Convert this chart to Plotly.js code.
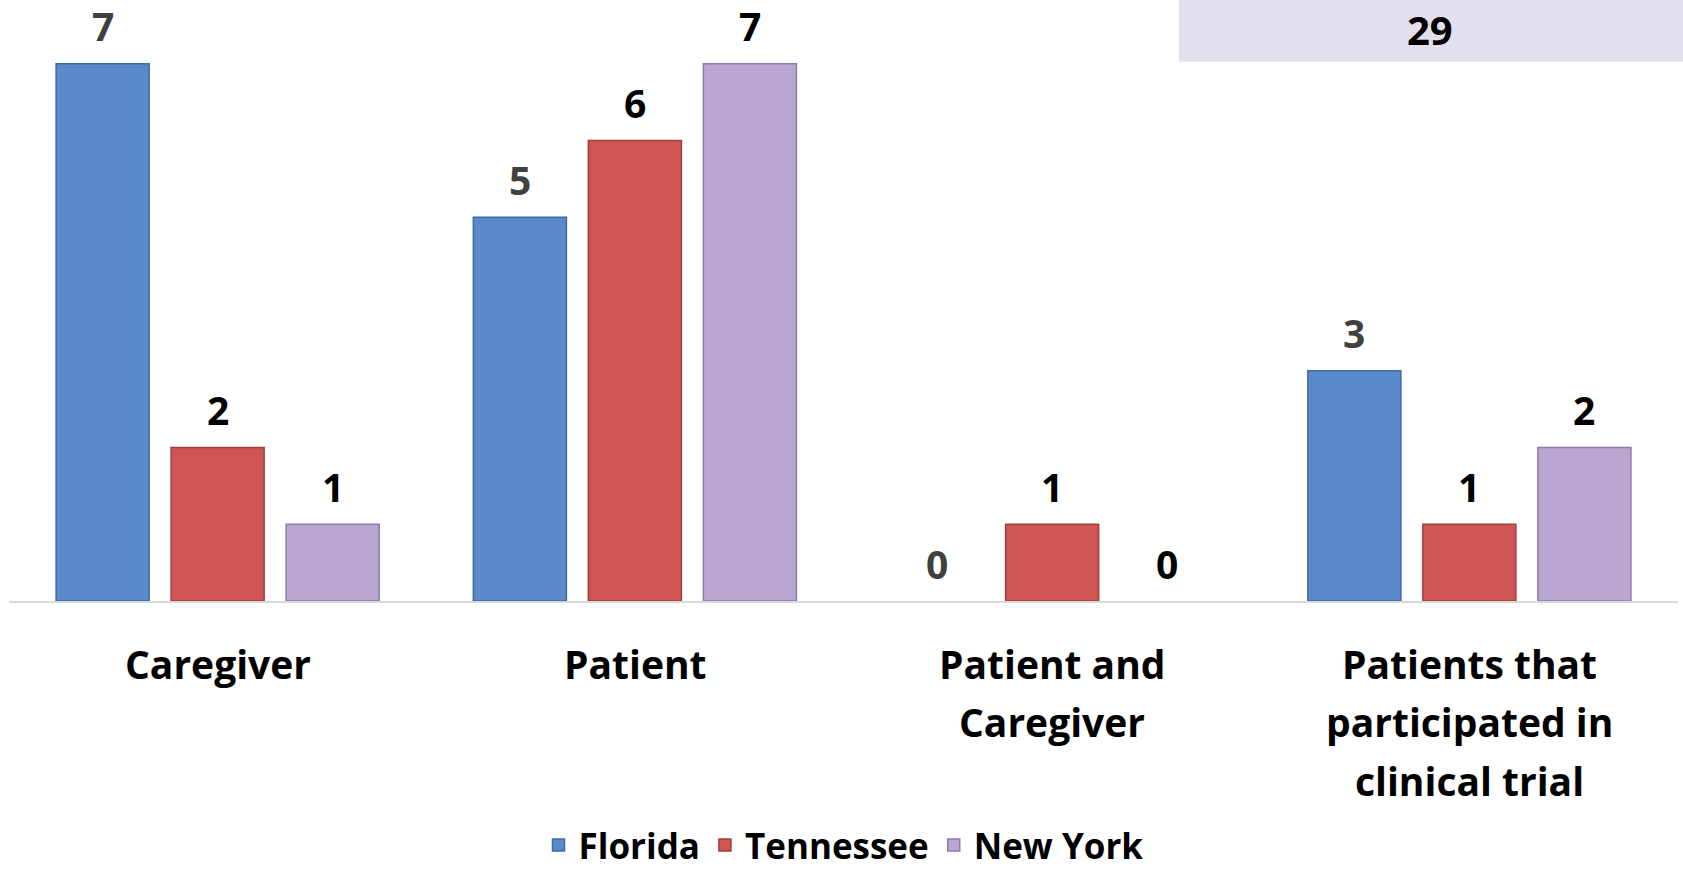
<!DOCTYPE html>
<html>
<head>
<meta charset="utf-8">
<script src="https://cdn.plot.ly/plotly-3.0.1.min.js"></script>
<style>html,body{margin:0;padding:0;background:#fff;}#chart{width:1683px;height:876px;}</style>
</head>
<body>
<div id="chart"></div>
<script>
// ---- data ----
const categories = ['Caregiver', 'Patient', 'Patient and Caregiver', 'Patients that participated in clinical trial'];
const categoryLines = [['Caregiver'], ['Patient'], ['Patient and', 'Caregiver'], ['Patients that', 'participated in', 'clinical trial']];
const seriesNames = ['Florida', 'Tennessee', 'New York'];
const florida = [7, 5, 0, 3];
const tennessee = [2, 6, 1, 1];
const newYork = [1, 7, 0, 2];
const totalLabel = '29';

// ---- styles ----
const seriesValues = [florida, tennessee, newYork];
const fillColors = ['#5A8AC9', '#CD5553', '#B9A6D1'];
const lineColors = ['#3E6BA6', '#A33E3B', '#8F7AAB'];
const labelColors = ['#404040', '#000000', '#000000'];
const FONT = '"Open Sans", Calibri, sans-serif';
const bargap = 0.173;
const bargroupgap = 0.191;

const traces = seriesNames.map((name, s) => ({
  type: 'bar',
  name: name,
  x: categories,
  y: seriesValues[s],
  marker: {
    color: fillColors[s],
    line: {color: lineColors[s], width: seriesValues[s].map(v => (v > 0 ? 1.5 : 0))}
  },
  hoverinfo: 'skip'
}));

const annotations = [];
const step = (1 - bargap) / seriesNames.length;
seriesValues.forEach((vals, s) => {
  vals.forEach((v, j) => {
    annotations.push({
      xref: 'x', yref: 'y',
      x: j + (s - (seriesNames.length - 1) / 2) * step,
      y: v,
      yshift: 38,
      yanchor: 'middle',
      showarrow: false,
      text: String(v),
      font: {family: FONT, size: 39, color: labelColors[s], weight: 'bold'}
    });
  });
});
categoryLines.forEach((lines, j) => {
  lines.forEach((line, k) => {
    annotations.push({
      xref: 'x', yref: 'paper',
      x: j, y: 0,
      yshift: -(62 + k * 58.5),
      yanchor: 'middle',
      showarrow: false,
      text: line,
      font: {family: FONT, size: 39, color: '#000000', weight: 'bold'}
    });
  });
});
annotations.push({
  xref: 'paper', yref: 'paper',
  x: 0.8514, y: 1,
  xanchor: 'center', yanchor: 'top',
  showarrow: false,
  text: totalLabel,
  font: {family: FONT, size: 40, color: '#000000', weight: 'bold'}
});

const layout = {
  width: 1683, height: 876,
  margin: {l: 9, r: 5, t: 0, b: 275},
  paper_bgcolor: '#ffffff', plot_bgcolor: '#ffffff',
  barmode: 'group',
  bargap: bargap,
  bargroupgap: bargroupgap,
  font: {family: FONT, color: '#000000', weight: 'bold'},
  xaxis: {
    type: 'category',
    showline: true, linecolor: '#D9D9D9', linewidth: 2,
    showticklabels: false, showgrid: false, zeroline: false, ticks: ''
  },
  yaxis: {range: [0, 7.829], visible: false, showgrid: false, zeroline: false},
  showlegend: true,
  legend: {
    orientation: 'h', xref: 'paper', x: 0.5, xanchor: 'center',
    yref: 'container', y: 0.035, yanchor: 'middle',
    font: {family: FONT, size: 35, color: '#000000', weight: 'bold'},
    bgcolor: 'rgba(0,0,0,0)'
  },
  shapes: [{
    type: 'rect', xref: 'paper', yref: 'paper',
    x0: 0.701, x1: 1.01, y0: 0.8974, y1: 1.01,
    fillcolor: '#E4DFEC', line: {width: 0}, layer: 'below'
  }],
  annotations: annotations
};

Plotly.newPlot('chart', traces, layout, {displayModeBar: false, staticPlot: true});
</script>
</body>
</html>
